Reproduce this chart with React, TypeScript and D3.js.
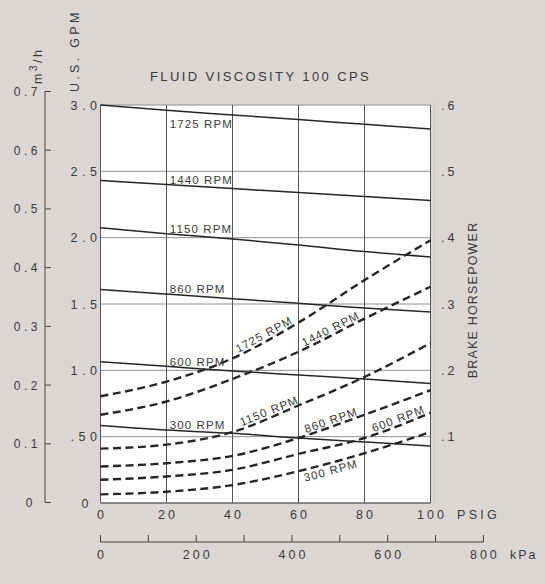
import React from "react";
import * as d3 from "d3";

const W = 545;
const H = 584;

// Pressure (PSIG) sample points
const psiPoints = [0, 20, 40, 60, 80, 100];
const rpmNames = ["1725", "1440", "1150", "860", "600", "300"];

// Capacity (U.S. GPM) – solid lines
const gpm1725 = [3.0, 2.96, 2.925, 2.89, 2.855, 2.82];
const gpm1440 = [2.43, 2.4, 2.37, 2.34, 2.31, 2.28];
const gpm1150 = [2.075, 2.03, 1.99, 1.945, 1.895, 1.855];
const gpm860 = [1.61, 1.575, 1.54, 1.505, 1.47, 1.44];
const gpm600 = [1.065, 1.03, 0.995, 0.965, 0.935, 0.9];
const gpm300 = [0.585, 0.55, 0.525, 0.49, 0.46, 0.43];

// Brake horsepower – dashed lines
const bhp1725 = [0.161, 0.183, 0.218, 0.272, 0.336, 0.396];
const bhp1440 = [0.133, 0.153, 0.187, 0.228, 0.278, 0.326];
const bhp1150 = [0.082, 0.088, 0.107, 0.147, 0.19, 0.241];
const bhp860 = [0.055, 0.06, 0.071, 0.098, 0.133, 0.17];
const bhp600 = [0.035, 0.04, 0.05, 0.074, 0.098, 0.136];
const bhp300 = [0.013, 0.017, 0.027, 0.048, 0.075, 0.107];

// label anchor pressures (PSIG) for dashed curves
const bhpLabelPsi = [42, 62, 43, 62.5, 83, 61];

// Axis ticks
const gpmTicks = [0, 0.5, 1, 1.5, 2, 2.5, 3];
const gpmTickLabels = ["0", ".50", "1.0", "1.5", "2.0", "2.5", "3.0"];
const m3hTicks = [0, 0.1, 0.2, 0.3, 0.4, 0.5, 0.6, 0.7];
const m3hTickLabels = ["0", "0.1", "0.2", "0.3", "0.4", "0.5", "0.6", "0.7"];
const bhpTicks = [0.1, 0.2, 0.3, 0.4, 0.5, 0.6];
const bhpTickLabels = [".1", ".2", ".3", ".4", ".5", ".6"];
const psiTicks = [0, 20, 40, 60, 80, 100];
const psiTickLabels = ["0", "20", "40", "60", "80", "100"];
const kpaTicks = [0, 100, 200, 300, 400, 500, 600, 700, 800];
const kpaLabelTicks = [0, 200, 400, 600, 800];

const gpmSeries = [gpm1725, gpm1440, gpm1150, gpm860, gpm600, gpm300];
const bhpSeries = [bhp1725, bhp1440, bhp1150, bhp860, bhp600, bhp300];

const FONT = "'Liberation Sans', Arial, sans-serif";
const INK = "#262626";
const TXT = "#3a3a3a";

export default function App() {
  const x = d3.scaleLinear().domain([0, 100]).range([100.5, 430.5]);
  const yG = d3.scaleLinear().domain([0, 3]).range([503, 105]);
  const yB = d3.scaleLinear().domain([0, 0.6]).range([503, 105]);
  const yM = d3.scaleLinear().domain([0, 0.7]).range([502.5, 91.5]);
  const kpaPerPsi = 6.894757;
  const xK = d3.scaleLinear().domain([0, 800]).range([x(0), x(800 / kpaPerPsi)]);

  const solid = d3
    .line<number>()
    .x((_, i) => x(psiPoints[i]))
    .y((d) => yG(d))
    .curve(d3.curveMonotoneX);
  const dashed = d3
    .line<number>()
    .x((_, i) => x(psiPoints[i]))
    .y((d) => yB(d))
    .curve(d3.curveMonotoneX);

  const onCurve = (vals: number[], ys: d3.ScaleLinear<number, number>, p0: number) => {
    const interp = d3.scaleLinear().domain(psiPoints).range(vals);
    const p1 = Math.min(100, p0 + 15);
    const x0 = x(p0);
    const y0 = ys(interp(p0));
    const x1 = x(p1);
    const y1 = ys(interp(p1));
    const ang = (Math.atan2(y1 - y0, x1 - x0) * 180) / Math.PI;
    return { x0, y0, ang };
  };

  const plotL = x(0);
  const plotR = x(100);
  const plotT = yG(3);
  const plotB = yG(0);

  return (
    <svg
      width={W}
      height={H}
      viewBox={`0 0 ${W} ${H}`}
      style={{ position: "absolute", left: 0, top: 0, display: "block" }}
      fontFamily={FONT}
    >
      <rect x={0} y={0} width={W} height={H} fill="#dbd6d3" />

      {/* Title */}
      <text x={150} y={81} fontSize={13} letterSpacing={2.4} fill={TXT}>
        FLUID VISCOSITY 100 CPS
      </text>

      {/* Plot area */}
      <rect x={plotL} y={plotT} width={plotR - plotL} height={plotB - plotT} fill="#ffffff" />

      {/* horizontal grid */}
      {gpmTicks.map((t) => (
        <line key={"hg" + t} x1={plotL} x2={plotR} y1={yG(t)} y2={yG(t)} stroke="#8c8f99" strokeWidth={1} />
      ))}
      {/* vertical grid */}
      {psiTicks.map((t) => (
        <line key={"vg" + t} x1={x(t)} x2={x(t)} y1={plotT} y2={plotB} stroke="#555" strokeWidth={1} />
      ))}
      <line x1={plotL} x2={plotR} y1={plotB} y2={plotB} stroke="#555" strokeWidth={1.2} />
      <line x1={plotR + 4} x2={plotR + 4} y1={plotT - 3} y2={plotB} stroke="#c9c4c1" strokeWidth={1} />

      {/* Capacity curves (solid) */}
      {gpmSeries.map((vals, i) => (
        <path key={"s" + i} d={solid(vals) || ""} fill="none" stroke={INK} strokeWidth={1.5} />
      ))}
      {gpmSeries.map((vals, i) => {
        const interp = d3.scaleLinear().domain(psiPoints).range(vals);
        const p = 21;
        const yy = yG(interp(p)) + (i === 0 ? 17 : -1);
        return (
          <text key={"sl" + i} x={x(p)} y={yy} fontSize={11.5} letterSpacing={1.1} fill={TXT}>
            {rpmNames[i]} RPM
          </text>
        );
      })}

      {/* Brake horsepower curves (dashed) */}
      {bhpSeries.map((vals, i) => (
        <path
          key={"d" + i}
          d={dashed(vals) || ""}
          fill="none"
          stroke={INK}
          strokeWidth={2.4}
          strokeDasharray="8 4.5"
        />
      ))}
      {bhpSeries.map((vals, i) => {
        const { x0, y0, ang } = onCurve(vals, yB, bhpLabelPsi[i]);
        const below = i === bhpSeries.length - 1;
        return (
          <text
            key={"dl" + i}
            transform={`translate(${x0},${y0}) rotate(${ang})`}
            y={below ? 12 : -2}
            fontSize={11.5}
            letterSpacing={1.1}
            fill={TXT}
          >
            {rpmNames[i]} RPM
          </text>
        );
      })}

      {/* GPM axis labels */}
      {gpmTicks.map((t, i) => (
        <text
          key={"gl" + t}
          x={t === 0 ? 93 : 101.5}
          y={yG(t) + 4.5}
          textAnchor="end"
          fontSize={12.5}
          letterSpacing={4.5}
          fill={TXT}
        >
          {gpmTickLabels[i]}
        </text>
      ))}
      <text transform={`translate(79,92) rotate(-90)`} fontSize={12.5} letterSpacing={3.3} fill={TXT}>
        U.S. GPM
      </text>

      {/* m3/h axis */}
      <line x1={45} x2={45} y1={yM(0.7)} y2={yM(0)} stroke="#444" strokeWidth={1} />
      {m3hTicks.map((t, i) => (
        <g key={"mt" + t}>
          <line x1={45} x2={51} y1={yM(t)} y2={yM(t)} stroke="#444" strokeWidth={1} />
          <text
            x={t === 0 ? 36 : 41}
            y={yM(t) + 4.5}
            textAnchor="end"
            fontSize={12}
            letterSpacing={3.5}
            fill={TXT}
          >
            {m3hTickLabels[i]}
          </text>
        </g>
      ))}
      <text transform={`translate(42,84) rotate(-90)`} fontSize={12.5} letterSpacing={2.5} fill={TXT}>
        m
        <tspan fontSize={10} dy={-5}>
          3
        </tspan>
        <tspan dy={5}>/h</tspan>
      </text>

      {/* BHP axis labels */}
      {bhpTicks.map((t, i) => (
        <text key={"bl" + t} x={441} y={yB(t) + 4.5} fontSize={12.5} letterSpacing={3} fill={TXT}>
          {bhpTickLabels[i]}
        </text>
      ))}
      <text
        transform={`translate(477,300) rotate(-90)`}
        textAnchor="middle"
        fontSize={12.5}
        letterSpacing={1.2}
        fill={TXT}
      >
        BRAKE HORSEPOWER
      </text>

      {/* PSIG axis labels */}
      {psiTicks.map((t, i) => (
        <text key={"pl" + t} x={x(t) + 1.5} y={519} textAnchor="middle" fontSize={12.5} letterSpacing={3} fill={TXT}>
          {psiTickLabels[i]}
        </text>
      ))}
      <text x={457} y={519} fontSize={12.5} letterSpacing={3.3} fill={TXT}>
        PSIG
      </text>

      {/* kPa axis */}
      <line x1={xK(0)} x2={xK(800)} y1={542} y2={542} stroke="#444" strokeWidth={1} />
      {kpaTicks.map((t) => (
        <line key={"kt" + t} x1={xK(t)} x2={xK(t)} y1={542} y2={535} stroke="#444" strokeWidth={1} />
      ))}
      {kpaLabelTicks.map((t) => (
        <text key={"kl" + t} x={xK(t) + 1.5} y={559} textAnchor="middle" fontSize={12.5} letterSpacing={3} fill={TXT}>
          {String(t)}
        </text>
      ))}
      <text x={510} y={559} fontSize={12.5} letterSpacing={2} fill={TXT}>
        kPa
      </text>
    </svg>
  );
}
